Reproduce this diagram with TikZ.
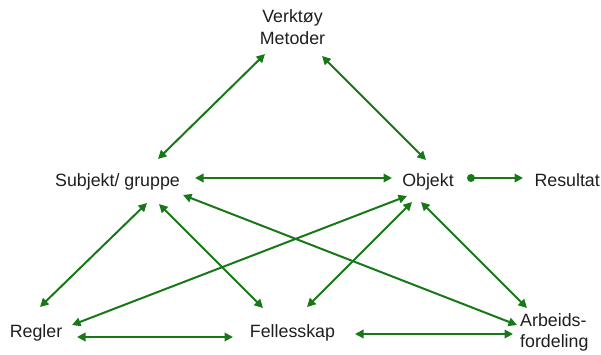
\documentclass[tikz,border=0pt]{standalone}
\usepackage{fontspec}
\setmainfont{Liberation Sans}
\usetikzlibrary{arrows.meta}
\definecolor{arrgreen}{RGB}{24,120,24}
\definecolor{txt}{RGB}{30,30,30}
\tikzset{
  lbl/.style={inner sep=0pt, anchor=base, text=txt, font=\fontsize{17.8}{21.5}\selectfont},
  link/.style={draw=arrgreen, line width=2pt, {Triangle[length=8.5pt,width=8.5pt]}-{Triangle[length=8.5pt,width=8.5pt]}},
  onelink/.style={draw=arrgreen, line width=2pt, -{Triangle[length=8.5pt,width=8.5pt]}},
}
\begin{document}
\begin{tikzpicture}[x=1pt,y=-1pt]
\useasboundingbox (0,0) rectangle (601,354);
% labels
\node[lbl] (verk) at (292.5,22.5) {Verktøy};
\node[lbl] (meto) at (292.5,44) {Metoder};
\node[lbl] (subj) at (117.5,186) {Subjekt/ gruppe};
\node[lbl] (obj) at (428,186) {Objekt};
\node[lbl, anchor=base east] (res) at (600,186) {Resultat};
\node[lbl] (regl) at (36,337) {Regler};
\node[lbl] (fell) at (292.5,337) {Fellesskap};
\node[lbl, anchor=base west] (arb) at (520,326) {Arbeids-};
\node[lbl, anchor=base west] (ford) at (520,347.5) {fordeling};
% connector end points
\coordinate (vs) at (265,54);   \coordinate (sv) at (158,159);
\coordinate (vo) at (322,56);   \coordinate (ov) at (426,160);
\coordinate (so) at (195,178);  \coordinate (os) at (392,178);
\coordinate (or) at (471,178);  \coordinate (ro) at (523,178);
\coordinate (sr) at (147,203);  \coordinate (rs) at (40,307);
\coordinate (sf) at (159,204);  \coordinate (fs) at (263,308);
\coordinate (sa) at (183,195);  \coordinate (as) at (517,325);
\coordinate (orr) at (407,196); \coordinate (ro2) at (72,325);
\coordinate (of) at (412,202);  \coordinate (fo) at (307,307);
\coordinate (oa) at (421,202);  \coordinate (ao) at (527,308);
\coordinate (rf) at (77,337);   \coordinate (fr) at (233,337);
\coordinate (fa) at (355,334);  \coordinate (af) at (513,334);
% connectors
\draw[link] (vs) -- (sv);
\draw[link] (vo) -- (ov);
\draw[link] (so) -- (os);
\draw[onelink] (or) -- (ro);
\fill[arrgreen] (or) circle (4pt);
\draw[link] (sr) -- (rs);
\draw[link] (sf) -- (fs);
\draw[link] (sa) -- (as);
\draw[link] (orr) -- (ro2);
\draw[link] (of) -- (fo);
\draw[link] (oa) -- (ao);
\draw[link] (rf) -- (fr);
\draw[link] (fa) -- (af);
\end{tikzpicture}
\end{document}
